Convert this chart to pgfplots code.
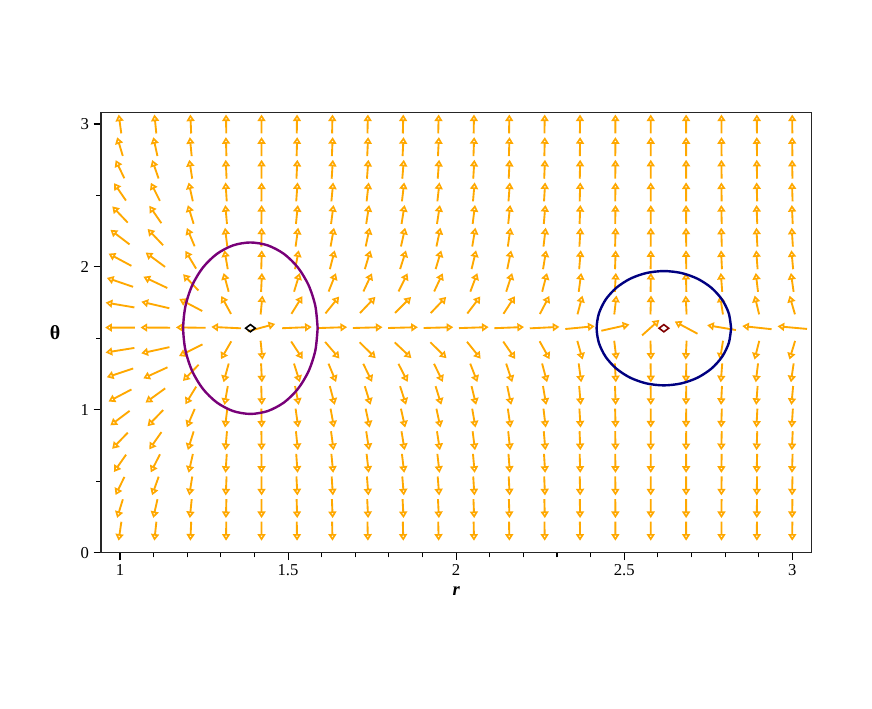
\documentclass[border=0pt]{standalone}
\usepackage{pgfplots}
\pgfplotsset{compat=1.18}
\usepackage{pgfplotstable}
\usepackage{fontspec}
\setmainfont{Liberation Serif}
\usetikzlibrary{arrows.meta}
\definecolor{fieldorange}{RGB}{255,168,0}
\definecolor{ellpurple}{RGB}{120,0,120}
\definecolor{ellnavy}{RGB}{0,0,128}
\definecolor{ptmaroon}{RGB}{128,0,0}

% columns of the field: r position and horizontal tendency R
\pgfplotstableread{
x R
1.00000 -0.620
1.10526 -0.450
1.21053 -0.200
1.31579 -0.057
1.42105 0.010
1.52632 0.065
1.63158 0.085
1.73684 0.100
1.84211 0.105
1.94737 0.100
2.05263 0.080
2.15789 0.068
2.26316 0.055
2.36842 0.028
2.47368 0.012
2.57895 0.003
2.68421 -0.005
2.78947 -0.016
2.89474 -0.025
3.00000 -0.030
}\fieldcols

% one row of arrows: #1 = theta of the row, #2 = vertical tendency of the row
\newcommand{\fieldrow}[2]{%
\addplot[fieldorange, line width=1.4pt, -{Triangle[open,length=5pt,width=6pt]},
 quiver={u={0.0884*(\thisrow{R})/sqrt((\thisrow{R})^2+(#2)^2)},
         v={0.1330*(#2)/sqrt((\thisrow{R})^2+(#2)^2)}}]
 table[x expr={\thisrow{x}-0.0442*(\thisrow{R})/sqrt((\thisrow{R})^2+(#2)^2)},
       y expr={#1-0.0665*(#2)/sqrt((\thisrow{R})^2+(#2)^2)}] {\fieldcols};}

\begin{document}
\begin{tikzpicture}
\begin{axis}[
  name=ax,
  scale only axis, width=533pt, height=330.3pt,
  xmin=0.9435, xmax=3.0577, ymin=0, ymax=3.082,
  axis line style={line width=0.8pt, black!85},
  xtick={1,1.5,2,2.5,3},
  minor xtick={1.1,1.2,1.3,1.4,1.6,1.7,1.8,1.9,2.1,2.2,2.3,2.4,2.6,2.7,2.8,2.9},
  ytick={0,1,2,3}, minor ytick={0.5,1.5,2.5},
  tick align=outside, xtick pos=left, ytick pos=left,
  major tick length=5.5pt, minor tick length=3.5pt,
  tick style={black, line width=0.8pt},
  /pgf/number format/assume math mode=true,
  ticklabel style={font=\fontsize{12.5}{14}\selectfont},
]
\fieldrow{0.15000}{-6.617}
\fieldrow{0.30833}{-3.139}
\fieldrow{0.46667}{-1.985}
\fieldrow{0.62500}{-1.386}
\fieldrow{0.78333}{-1.004}
\fieldrow{0.94167}{-0.728}
\fieldrow{1.10000}{-0.509}
\fieldrow{1.25833}{-0.323}
\fieldrow{1.41667}{-0.155}
\fieldrow{1.57500}{0.0042}
\fieldrow{1.73333}{0.164}
\fieldrow{1.89167}{0.332}
\fieldrow{2.05000}{0.520}
\fieldrow{2.20833}{0.740}
\fieldrow{2.36667}{1.021}
\fieldrow{2.52500}{1.412}
\fieldrow{2.68333}{2.026}
\fieldrow{2.84167}{3.234}
\fieldrow{3.00000}{7.015}

\addplot[ellpurple, line width=1.8pt, smooth, no markers] coordinates {
(1.588,1.5708) (1.58119,1.72609) (1.56121,1.8708) (1.52942,1.99506)
(1.488,2.09042) (1.43976,2.15036) (1.388,2.1708) (1.33624,2.15036)
(1.288,2.09042) (1.24658,1.99506) (1.21479,1.8708) (1.19481,1.72609)
(1.188,1.5708) (1.19481,1.41551) (1.21479,1.2708) (1.24658,1.14654)
(1.288,1.05118) (1.33624,0.99124) (1.388,0.9708) (1.43976,0.99124)
(1.488,1.05118) (1.52942,1.14654) (1.56121,1.2708) (1.58119,1.41551)
(1.588,1.5708)};

\addplot[ellnavy, line width=1.8pt, smooth, no markers] coordinates {
(2.818,1.5708) (2.81119,1.67433) (2.79121,1.7708) (2.75942,1.85364)
(2.718,1.91721) (2.66976,1.95717) (2.618,1.9708) (2.56624,1.95717)
(2.518,1.91721) (2.47658,1.85364) (2.44479,1.7708) (2.42481,1.67433)
(2.418,1.5708) (2.42481,1.46727) (2.44479,1.3708) (2.47658,1.28796)
(2.518,1.22439) (2.56624,1.18443) (2.618,1.1708) (2.66976,1.18443)
(2.718,1.22439) (2.75942,1.28796) (2.79121,1.3708) (2.81119,1.46727)
(2.818,1.5708)};

\addplot[only marks, mark=diamond, mark size=3.6pt, line width=1.2pt, black,
  mark options={rotate=90, fill=white}] coordinates {(1.388,1.5708)};
\addplot[only marks, mark=diamond, mark size=3.6pt, line width=1.2pt, ptmaroon,
  mark options={rotate=90, fill=white}] coordinates {(2.618,1.5708)};
\end{axis}
\node[font=\fontsize{15}{17}\selectfont\bfseries, xshift=-34.5pt] at (ax.west) {θ};
\node[font=\fontsize{14}{16}\selectfont, yshift=-28.5pt] at (ax.south) {\textbf{\textit{r}}};
\path (-75.75pt,-116.5pt) rectangle (578.25pt,414.5pt);
\end{tikzpicture}
\end{document}
